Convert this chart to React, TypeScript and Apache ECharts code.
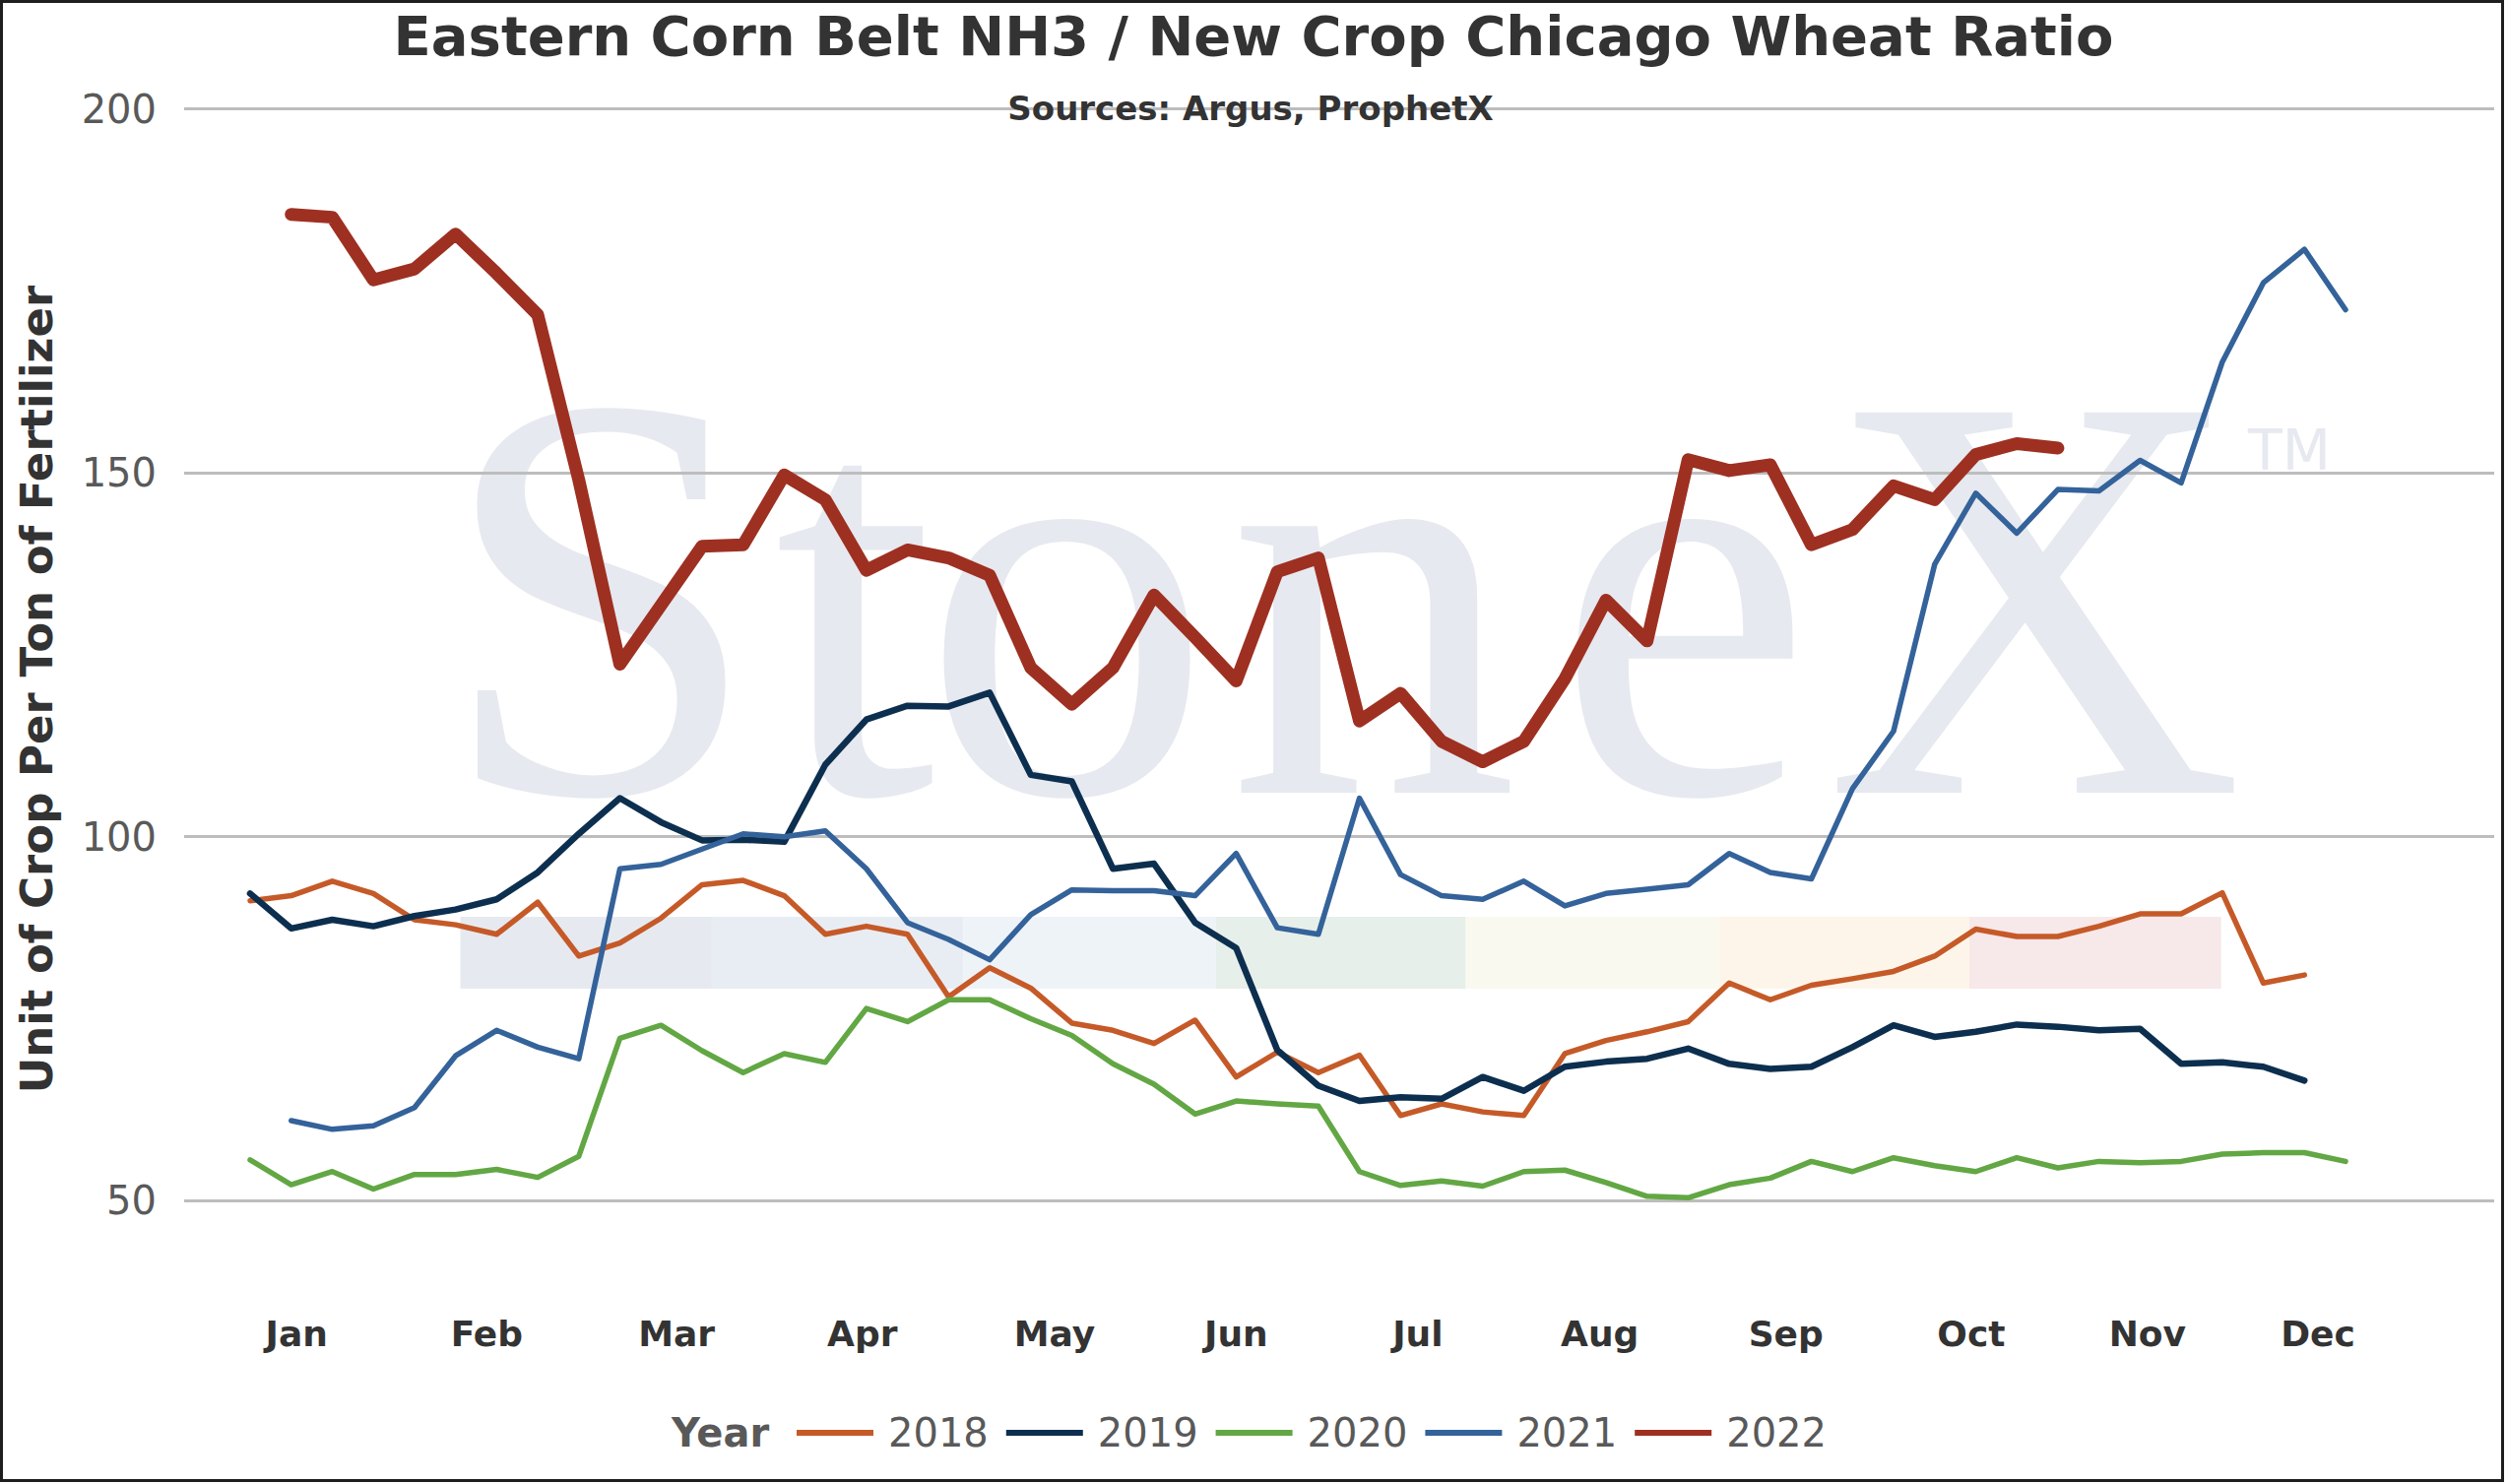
import { useEffect, useRef } from 'react';
import * as echarts from 'echarts';

const weeks = Array.from({ length: 52 }, (_, i) => i + 1);

const monthLabels = ['Jan', 'Feb', 'Mar', 'Apr', 'May', 'Jun', 'Jul', 'Aug', 'Sep', 'Oct', 'Nov', 'Dec'];
// week position of each month label
const monthLabelWeeks = [2.13, 6.76, 11.38, 15.9, 20.58, 25.0, 29.42, 33.85, 38.38, 42.89, 47.18, 51.33];

const yearNames = ['2018', '2019', '2020', '2021', '2022'];

const y2018 = [
  91.2, 91.9, 93.9, 92.2, 88.6, 87.9, 86.6, 91.0, 83.6, 85.4, 88.8, 93.4, 94.0,
  91.9, 86.6, 87.7, 86.6, 78.0, 82.0, 79.2, 74.4, 73.4, 71.6, 74.8, 67.0, 70.4, 67.6,
  70.0, 61.7, 63.3, 62.2, 61.7, 70.2, 72.0, 73.2, 74.6, 79.9, 77.6, 79.6, 80.5,
  81.5, 83.6, 87.3, 86.3, 86.3, 87.7, 89.4, 89.4, 92.3, 79.9, 81.0, null
];
const y2019 = [
  92.2, 87.4, 88.6, 87.7, 89.1, 90.0, 91.4, 95.1, 100.4, 105.3, 102.0, 99.5, 99.6,
  99.3, 109.9, 116.1, 118.0, 117.9, 119.8, 108.5, 107.6, 95.6, 96.3, 88.2, 84.7, 70.7, 65.8,
  63.7, 64.2, 64.0, 67.0, 65.1, 68.4, 69.1, 69.5, 70.9, 68.8, 68.1, 68.4, 71.1,
  74.1, 72.5, 73.2, 74.2, 73.9, 73.4, 73.6, 68.8, 69.0, 68.4, 66.5, null
];
const y2020 = [
  55.6, 52.2, 54.0, 51.6, 53.6, 53.6, 54.3, 53.2, 56.1, 72.3, 74.1, 70.6, 67.6,
  70.2, 69.0, 76.4, 74.6, 77.6, 77.6, 75.0, 72.7, 68.8, 66.0, 61.9, 63.7, 63.3, 63.0,
  54.0, 52.1, 52.7, 52.0, 54.0, 54.2, 52.5, 50.6, 50.4, 52.2, 53.1, 55.4, 54.0,
  55.9, 54.8, 54.0, 55.9, 54.5, 55.4, 55.2, 55.4, 56.4, 56.6, 56.6, 55.4
];
const y2021 = [
  null, 61.0, 59.8, 60.3, 62.8, 69.9, 73.4, 71.1, 69.5, 95.6, 96.2, 98.3, 100.4,
  100.0, 100.8, 95.6, 88.2, 85.9, 83.1, 89.3, 92.7, 92.6, 92.6, 91.9, 97.7, 87.5, 86.6,
  105.3, 94.8, 91.9, 91.4, 93.9, 90.5, 92.2, 92.8, 93.4, 97.7, 95.1, 94.2, 106.6,
  114.5, 137.4, 147.2, 141.7, 147.7, 147.5, 151.7, 148.6, 165.2, 176.1, 180.7, 172.4
];
const y2022 = [
  null, 185.5, 185.1, 176.5, 178.0, 182.8, 177.4, 171.7, 149.0, 123.7, 131.8, 139.9, 140.1,
  149.7, 146.3, 136.6, 139.4, 138.3, 135.9, 123.2, 118.2, 123.2, 133.2, 127.4, 121.4, 136.4, 138.3,
  115.9, 119.7, 113.1, 110.3, 113.1, 121.7, 132.5, 126.9, 151.8, 150.3, 151.1, 140.1, 142.2,
  148.2, 146.3, 152.5, 154.0, 153.4, null, null, null, null, null, null, null
];

const yearValues = [y2018, y2019, y2020, y2021, y2022];
const yearColors = ['#C55A28', '#0D2F4F', '#62A744', '#34629A', '#9E3022'];
const yearWidths = [5.5, 6.5, 5.5, 5.5, 13];

const FONT = '"DejaVu Sans", Verdana, sans-serif';

const App = () => {
  const chartRef = useRef<HTMLDivElement>(null);

  useEffect(() => {
    if (!chartRef.current) return;
    const myChart = echarts.init(chartRef.current, null, { renderer: 'svg' });

    // coloured strip under the watermark
    const bandColors = ['#E6EAF0', '#E8EDF4', '#EEF3F8', '#E6EFE9', '#F9F9EF', '#FDF5EA', '#F7E8E9'];
    const bandEdges = [467.5, 722.9, 978.2, 1234.6, 1488.6, 1745.7, 2000, 2255.7];
    const bands = bandColors.map((c, i) => ({
      type: 'rect',
      z: -2,
      silent: true,
      shape: { x: bandEdges[i], y: 931, width: bandEdges[i + 1] - bandEdges[i], height: 73 },
      style: { fill: c }
    }));

    const letters = [
      { t: 'S', x: 445 },
      { t: 't', x: 786 },
      { t: 'o', x: 936 },
      { t: 'n', x: 1247 },
      { t: 'e', x: 1579 },
      { t: 'X', x: 1853 }
    ];
    const watermark = letters.map((l) => ({
      type: 'text',
      z: -1,
      silent: true,
      x: l.x,
      y: 606,
      style: {
        text: l.t,
        fill: '#E6E9EF',
        font: '590px "Liberation Serif", "DejaVu Serif", serif',
        textAlign: 'left',
        textVerticalAlign: 'middle'
      }
    }));

    const option = {
      animation: false,
      backgroundColor: '#ffffff',
      grid: { left: 187, right: 13, top: 110.5, bottom: 287.7, containLabel: false },
      xAxis: {
        type: 'value',
        min: -0.606,
        max: 55.619,
        axisLine: { show: false },
        axisTick: { show: false },
        splitLine: { show: false },
        axisLabel: {
          customValues: monthLabelWeeks,
          formatter: (v: number) => {
            const i = monthLabelWeeks.findIndex((m) => Math.abs(m - v) < 1e-6);
            return i >= 0 ? monthLabels[i] : '';
          },
          margin: 135,
          verticalAlign: 'middle',
          fontSize: 36,
          fontWeight: 'bold',
          fontFamily: FONT,
          color: '#333333'
        }
      },
      yAxis: {
        type: 'value',
        min: 50,
        max: 200,
        interval: 50,
        axisLine: { show: false },
        axisTick: { show: false },
        axisLabel: { margin: 28, fontSize: 40, fontFamily: FONT, color: '#595959' },
        splitLine: { lineStyle: { color: '#BDBDBD', width: 3 } }
      },
      legend: {
        data: yearNames,
        left: 809,
        top: 1435,
        padding: 0,
        itemWidth: 78,
        itemHeight: 40,
        itemGap: 18,
        icon: 'path://M0,0L0.01,0M0,40L0.01,40M0,17L78,17L78,23L0,23Z',
        itemStyle: { borderWidth: 0 },
        textStyle: { fontSize: 40, fontFamily: FONT, color: '#595959', padding: [0, 0, 0, 10] }
      },
      graphic: [
        ...bands,
        ...watermark,
        {
          type: 'text',
          z: -1,
          silent: true,
          x: 2283,
          y: 457,
          style: {
            text: 'TM',
            fill: '#E6E9EF',
            font: '57px "DejaVu Sans", sans-serif',
            textAlign: 'left',
            textVerticalAlign: 'middle'
          }
        },
        {
          type: 'text',
          z: 10,
          x: 1273,
          y: 36,
          style: {
            text: 'Eastern Corn Belt NH3 / New Crop Chicago Wheat Ratio',
            fill: '#333333',
            font: 'bold 56px ' + FONT,
            textAlign: 'center',
            textVerticalAlign: 'middle'
          }
        },
        {
          type: 'text',
          z: 10,
          x: 1270,
          y: 110,
          style: {
            text: 'Sources: Argus, ProphetX',
            fill: '#333333',
            font: 'bold 34px ' + FONT,
            textAlign: 'center',
            textVerticalAlign: 'middle'
          }
        },
        {
          type: 'text',
          z: 10,
          x: 37,
          y: 700,
          rotation: Math.PI / 2,
          style: {
            text: 'Unit of Crop Per Ton of Fertilizer',
            fill: '#333333',
            font: 'bold 45px ' + FONT,
            textAlign: 'center',
            textVerticalAlign: 'middle'
          }
        },
        {
          type: 'text',
          z: 10,
          x: 682,
          y: 1455,
          style: {
            text: 'Year',
            fill: '#595959',
            font: 'bold 40px ' + FONT,
            textAlign: 'left',
            textVerticalAlign: 'middle'
          }
        },
        {
          type: 'rect',
          z: 20,
          silent: true,
          shape: { x: 1.5, y: 1.5, width: 2540, height: 1502 },
          style: { fill: 'none', stroke: '#1E1E1E', lineWidth: 3 }
        }
      ],
      series: yearNames.map((name, s) => ({
        name,
        type: 'line',
        symbol: 'none',
        showSymbol: false,
        connectNulls: false,
        silent: true,
        color: yearColors[s],
        itemStyle: { color: yearColors[s] },
        lineStyle: { color: yearColors[s], width: yearWidths[s], cap: 'round', join: 'round' },
        data: weeks.map((w, i) => [w, yearValues[s][i]])
      }))
    };

    myChart.setOption(option as any);

    const handleResize = () => myChart.resize();
    window.addEventListener('resize', handleResize);

    return () => {
      window.removeEventListener('resize', handleResize);
      myChart.dispose();
    };
  }, []);

  return (
    <div
      ref={chartRef}
      style={{ position: 'fixed', left: 0, top: 0, width: '2546px', height: '1507px', background: '#fff' }}
    />
  );
};

export default App;
